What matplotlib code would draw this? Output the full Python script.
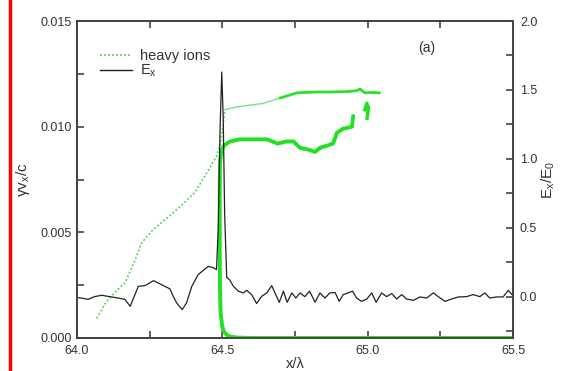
import matplotlib
matplotlib.use("Agg")
import matplotlib.pyplot as plt
from matplotlib.ticker import MultipleLocator
from matplotlib.lines import Line2D

plt.rcParams['font.family'] = ['Liberation Sans', 'DejaVu Sans']
plt.rcParams['mathtext.default'] = 'regular'

# heavy ions, dotted branch (x/lambda, gamma vx / c)
ion_x = [64.068, 64.10, 64.14, 64.165, 64.20, 64.222, 64.26, 64.303, 64.354, 64.406,
         64.446, 64.48, 64.492, 64.50, 64.509]
ion_v = [0.00093, 0.0017, 0.0023, 0.0026, 0.0037, 0.0045, 0.0051, 0.0056, 0.0062, 0.0069,
         0.0078, 0.0086, 0.0091, 0.0098, 0.0108]
# heavy ions, upper branch after the front
up_x = [64.509, 64.549, 64.585, 64.64, 64.70, 64.757, 64.82, 64.87, 64.93, 64.96,
        64.974, 64.99, 65.01, 65.04]
up_v = [0.0108, 0.01094, 0.0110, 0.0111, 0.01136, 0.0116, 0.01164, 0.01164, 0.01166, 0.0117,
        0.01178, 0.01160, 0.01162, 0.0116]
# thick green branch (from far right at zero, up the front, along the plateau)
thick_x = [65.50, 65.2, 64.9, 64.6, 64.55, 64.53, 64.516, 64.505, 64.499, 64.494,
           64.492, 64.491, 64.491, 64.492, 64.496, 64.505, 64.526, 64.56, 64.595, 64.653,
           64.69, 64.72, 64.745, 64.767, 64.80, 64.819, 64.836, 64.86, 64.881, 64.894,
           64.915, 64.946, 64.95]
thick_v = [0.0, 0.0, 0.0, 0.0, 0.00002, 0.00006, 0.00014, 0.0003, 0.0006, 0.0012,
           0.0022, 0.0040, 0.0070, 0.0083, 0.0088, 0.0091, 0.0093, 0.0094, 0.0094, 0.0094,
           0.0092, 0.0093, 0.0093, 0.0090, 0.0089, 0.0088, 0.0090, 0.0091, 0.0092, 0.0097,
           0.0099, 0.0100, 0.0105]
blob_x = [64.990, 64.997, 65.003, 64.998]
blob_v = [0.0108, 0.0111, 0.0109, 0.0104]

# longitudinal field E_x / E_0
ex_x = [64.0, 64.016, 64.038, 64.06, 64.085, 64.107, 64.142, 64.165, 64.183, 64.211,
        64.234, 64.263, 64.291, 64.32, 64.331, 64.343, 64.362, 64.377, 64.395, 64.417,
        64.434, 64.452, 64.469, 64.48, 64.486, 64.492, 64.498, 64.503, 64.508, 64.515,
        64.526, 64.538, 64.555, 64.572, 64.584, 64.601, 64.618, 64.635, 64.653, 64.67,
        64.681, 64.696, 64.71, 64.723, 64.739, 64.753, 64.767, 64.784, 64.80, 64.819,
        64.836, 64.853, 64.87, 64.888, 64.902, 64.916, 64.933, 64.948, 64.962, 64.979,
        64.997, 65.014, 65.029, 65.048, 65.065, 65.083, 65.10, 65.117, 65.134, 65.157,
        65.18, 65.203, 65.226, 65.243, 65.266, 65.289, 65.312, 65.34, 65.363, 65.386,
        65.403, 65.42, 65.444, 65.466, 65.484, 65.50]
ex_e = [-0.007, -0.01, -0.02, 0.0, 0.01, 0.002, -0.01, -0.02, -0.07, 0.075,
        0.08, 0.116, 0.087, 0.056, 0.002, -0.046, -0.094, -0.045, 0.075, 0.16,
        0.19, 0.22, 0.21, 0.196, 0.5, 1.2, 1.63, 1.3, 0.6, 0.14,
        0.12, 0.075, 0.04, 0.027, 0.046, 0.014, -0.05, 0.002, 0.027, 0.08,
        0.027, -0.041, 0.04, -0.041, 0.027, -0.01, 0.027, 0.0, 0.04, -0.04,
        0.027, -0.01, 0.027, 0.03, -0.034, 0.015, 0.027, 0.04, -0.01, -0.034,
        -0.017, 0.027, -0.041, 0.027, 0.0, 0.022, -0.017, 0.015, -0.017, -0.027,
        -0.002, -0.01, 0.027, 0.0, -0.034, -0.017, -0.002, 0.0, 0.015, 0.0,
        0.027, -0.01, -0.002, -0.002, 0.046, 0.007]

fig = plt.figure(figsize=(5.61, 3.71), dpi=100)
ax = fig.add_axes([77 / 561, 1 - 338 / 371, 436 / 561, 317 / 371])
ax2 = ax.twinx()

spine_c = '#444444'
text_c = '#333333'

ax.plot(ion_x, ion_v, color='#5cd65c', lw=1.2, ls=(0, (1.2, 1.2)), zorder=3)
ax.plot(up_x[:5], up_v[:5], color='#8ae08a', lw=1.1, zorder=3)
ax.plot(up_x[4:], up_v[4:], color='#2ee02e', lw=2.0, zorder=3)
ax.plot(thick_x, thick_v, color='#22e022', lw=2.8, solid_capstyle='round', zorder=3)
ax.plot(blob_x, blob_v, color='#22e022', lw=2.5, zorder=3)

ax2.plot(ex_x, ex_e, color='#222222', lw=0.9, zorder=2)

ax.set_xlim(64.0, 65.5)
ax.set_ylim(0.0, 0.015)
ax2.set_ylim(-0.3, 2.0)

ax.xaxis.set_major_locator(MultipleLocator(0.5))
ax.xaxis.set_minor_locator(MultipleLocator(0.25))
ax.yaxis.set_major_locator(MultipleLocator(0.005))
ax.yaxis.set_minor_locator(MultipleLocator(0.0025))
ax2.yaxis.set_major_locator(MultipleLocator(0.5))
ax2.yaxis.set_minor_locator(MultipleLocator(0.25))
ax.xaxis.set_major_formatter(plt.FormatStrFormatter('%.1f'))
ax.yaxis.set_major_formatter(plt.FormatStrFormatter('%.3f'))
ax2.yaxis.set_major_formatter(plt.FormatStrFormatter('%.1f'))

ax.tick_params(which='both', direction='in', top=True, right=False, colors=spine_c,
               labelcolor=text_c, labelsize=9, width=1.2, length=5)
ax.tick_params(axis='x', pad=5)
ax.tick_params(axis='y', pad=4)
ax2.tick_params(which='both', direction='in', colors=spine_c, labelcolor=text_c,
                labelsize=9, width=1.2, length=5, pad=5)
for a in (ax, ax2):
    for s in a.spines.values():
        s.set_color(spine_c)
        s.set_linewidth(1.3)

ax.set_xlabel('x/\u03bb', fontsize=10.5, color=text_c, labelpad=0)
ax.set_ylabel('\u03b3v$_x$/c', fontsize=11, color=text_c, labelpad=6)
ax2.set_ylabel('E$_x$/E$_0$', fontsize=11, color=text_c, labelpad=2)

handles = [Line2D([], [], color='#5cd65c', lw=1.2, ls=(0, (1.2, 1.2))),
           Line2D([], [], color='#222222', lw=1.0)]
ax.legend(handles, ['heavy ions', 'E$_x$'], loc='upper left', frameon=False,
          fontsize=10.5, handlelength=2.2, handletextpad=0.5, labelspacing=0.0,
          borderaxespad=0.0, bbox_to_anchor=(0.04, 0.93), labelcolor=text_c)

ax.text(0.782, 0.915, '(a)', transform=ax.transAxes, fontsize=10, color=text_c,
        va='center')

fig.add_artist(Line2D([10 / 561, 10 / 561], [0, 1], color='#ff0000', lw=2.5))

fig.savefig('out.png', dpi=100)
